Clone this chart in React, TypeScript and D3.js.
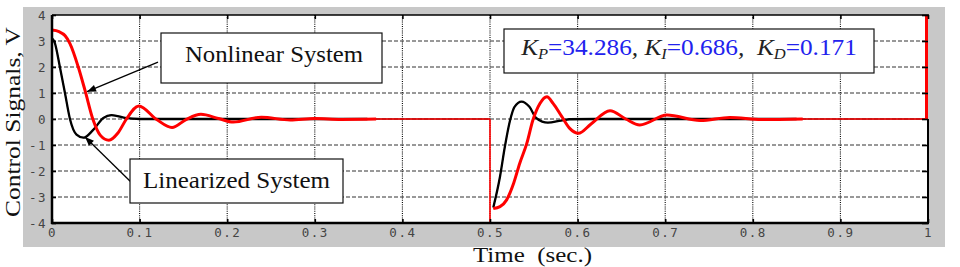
import React, { useEffect, useRef } from 'react';
import * as d3 from 'd3';

// time axis ticks (sec.) and control signal ticks (V)
const xTicks = [0, 0.1, 0.2, 0.3, 0.4, 0.5, 0.6, 0.7, 0.8, 0.9, 1];
const xTickLabels = ['0', '0.1', '0.2', '0.3', '0.4', '0.5', '0.6', '0.7', '0.8', '0.9', '1'];
const yTicks = [-4, -3, -2, -1, 0, 1, 2, 3, 4];

// linearized system, [t, v]
const linearPart1 = [
  [0, 3.1], [0.003, 2.95], [0.009, 2.0], [0.0148, 1.0], [0.0205, 0.0], [0.028, -0.6],
  [0.036, -0.72], [0.047, -0.42], [0.0586, 0.04], [0.068, 0.15], [0.085, 0.03],
  [0.1, 0], [0.36, 0], [0.5, 0],
];
const linearPart2 = [
  [0.5038, -3.4], [0.5114, -2.22], [0.517, -1.06], [0.523, -0.04], [0.528, 0.47],
  [0.536, 0.67], [0.545, 0.47], [0.553, 0.03], [0.566, -0.14], [0.581, -0.06],
  [0.591, -0.01], [0.62, 0], [0.85, 0], [1, 0],
];

// nonlinear system, [t, v]
const nonlinearPart1 = [
  [0, 3.42], [0.008, 3.36], [0.015, 3.2], [0.0205, 2.9], [0.03, 2.0], [0.0377, 1.1],
  [0.047, -0.04], [0.055, -0.62], [0.065, -0.82], [0.075, -0.55], [0.085, 0.0],
  [0.099, 0.5], [0.1195, -0.02], [0.137, -0.33], [0.153, -0.02], [0.17, 0.18],
  [0.19, 0.02], [0.207, -0.12], [0.239, 0.07], [0.272, -0.04], [0.3, 0.02],
  [0.33, -0.015], [0.37, 0], [0.5, 0],
];
const nonlinearPart2 = [
  [0.5038, -3.44], [0.5114, -3.37], [0.519, -3.11], [0.527, -2.47], [0.534, -1.7],
  [0.542, -0.94], [0.549, -0.04], [0.557, 0.6], [0.565, 0.86], [0.572, 0.6],
  [0.582, 0.09], [0.591, -0.36], [0.601, -0.55], [0.615, -0.2], [0.637, 0.32],
  [0.655, 0.0], [0.671, -0.23], [0.702, 0.15], [0.74, -0.06], [0.774, 0.06],
  [0.81, -0.02], [0.857, 0], [1, 0],
];
// jumps of the nonlinear signal at the load changes
const nonlinearJumps = [
  { t: 0.5, from: 0, to: -4.3 },
  { t: 1, from: 0, to: 4.3 },
];
// after these times both traces are drawn thin (settled)
const thickUntil = [0.37, 0.857];

const App = () => {
  const ref = useRef<SVGSVGElement>(null);

  useEffect(() => {
    const svg = d3.select(ref.current);
    svg.selectAll('*').remove();

    const plot = { left: 52, right: 928, top: 15, bottom: 223 };
    const serif = '"Liberation Serif", "Times New Roman", serif';

    const x = d3.scaleLinear().domain([0, 1]).range([plot.left, plot.right]);
    const y = d3.scaleLinear().domain([-4, 4]).range([plot.bottom, plot.top]);

    svg.append('rect')
      .attr('x', 23).attr('y', 7).attr('width', 922).attr('height', 240)
      .attr('fill', '#c8c8c8');
    svg.append('rect')
      .attr('x', plot.left).attr('y', plot.top)
      .attr('width', plot.right - plot.left).attr('height', plot.bottom - plot.top)
      .attr('fill', '#fff');

    const defs = svg.append('defs');
    defs.append('clipPath').attr('id', 'plot-clip')
      .append('rect')
      .attr('x', plot.left).attr('y', plot.top)
      .attr('width', plot.right - plot.left).attr('height', plot.bottom - plot.top);
    defs.append('marker')
      .attr('id', 'arrow')
      .attr('viewBox', '0 0 10 10')
      .attr('refX', 10).attr('refY', 5)
      .attr('markerWidth', 10).attr('markerHeight', 9)
      .attr('markerUnits', 'userSpaceOnUse')
      .attr('orient', 'auto')
      .append('path').attr('d', 'M0,1 L10,5 L0,9 Z').attr('fill', '#000');

    // grid
    svg.append('g')
      .selectAll('line')
      .data(xTicks.slice(1, -1))
      .join('line')
        .attr('x1', d => x(d)).attr('x2', d => x(d))
        .attr('y1', plot.top).attr('y2', plot.bottom)
        .attr('stroke', '#000').attr('stroke-width', 1.1)
        .attr('stroke-dasharray', '1,1.2');
    svg.append('g')
      .selectAll('line')
      .data(yTicks.slice(1, -1))
      .join('line')
        .attr('x1', plot.left).attr('x2', plot.right)
        .attr('y1', d => y(d)).attr('y2', d => y(d))
        .attr('stroke', '#333').attr('stroke-width', 1)
        .attr('stroke-dasharray', '4,2');

    const line = d3.line<number[]>()
      .x(d => x(d[0]))
      .y(d => y(d[1]))
      .curve(d3.curveMonotoneX);

    const traces = svg.append('g').attr('clip-path', 'url(#plot-clip)');

    const drawTrace = (segs: number[][][], color: string, thin: number, thick: number) => {
      segs.forEach((seg, i) => {
        traces.append('path')
          .attr('d', line(seg))
          .attr('fill', 'none').attr('stroke', color).attr('stroke-width', thin);
        traces.append('path')
          .attr('d', line(seg.filter(d => d[0] <= thickUntil[i])))
          .attr('fill', 'none').attr('stroke', color).attr('stroke-width', thick)
          .attr('stroke-linejoin', 'round');
      });
    };

    drawTrace([linearPart1, linearPart2], '#000', 1, 2.3);
    drawTrace([nonlinearPart1, nonlinearPart2], '#ff0000', 1.3, 3);

    traces.selectAll('line.jump')
      .data(nonlinearJumps)
      .join('line')
        .attr('class', 'jump')
        .attr('x1', d => x(d.t) - (d.t === 1 ? 1.5 : 0)).attr('x2', d => x(d.t) - (d.t === 1 ? 1.5 : 0))
        .attr('y1', d => y(d.from)).attr('y2', d => y(d.to))
        .attr('stroke', '#ff0000')
        .attr('stroke-width', d => (d.t === 1 ? 3 : 1.6));

    // axes (ticks inward on all four sides)
    const tickFont = '"DejaVu Sans Mono", monospace';
    const styleAxis = (g: d3.Selection<SVGGElement, unknown, null, undefined>) => {
      g.select('.domain').remove();
      g.selectAll('.tick line').attr('stroke', '#000').attr('stroke-width', 1.6);
      g.selectAll('.tick text')
        .attr('fill', '#444')
        .style('font-family', tickFont)
        .style('font-size', '12.5px')
        .style('letter-spacing', '1.5px');
    };

    svg.append('g')
      .attr('transform', `translate(0,${plot.bottom})`)
      .call(d3.axisBottom(x).tickValues(xTicks)
        .tickFormat((_, i) => xTickLabels[i]).tickSize(-4).tickPadding(5))
      .call(styleAxis);
    svg.append('g')
      .attr('transform', `translate(${plot.left},0)`)
      .call(d3.axisLeft(y).tickValues(yTicks).tickFormat(d => String(d))
        .tickSize(-4).tickPadding(5))
      .call(styleAxis);
    svg.append('g')
      .attr('transform', `translate(0,${plot.top})`)
      .call(d3.axisTop(x).tickValues(xTicks).tickFormat(() => '').tickSize(-4))
      .call(styleAxis);
    svg.append('g')
      .attr('transform', `translate(${plot.right},0)`)
      .call(d3.axisRight(y).tickValues(yTicks).tickFormat(() => '').tickSize(-6))
      .call(styleAxis);

    // box
    svg.append('line')
      .attr('x1', plot.left).attr('x2', plot.right + 1)
      .attr('y1', plot.top).attr('y2', plot.top)
      .attr('stroke', '#000').attr('stroke-width', 1.5);
    svg.append('line')
      .attr('x1', plot.right).attr('x2', plot.right)
      .attr('y1', y(0)).attr('y2', plot.bottom)
      .attr('stroke', '#000').attr('stroke-width', 2);
    svg.append('line')
      .attr('x1', plot.left).attr('x2', plot.left)
      .attr('y1', plot.top).attr('y2', plot.bottom + 1)
      .attr('stroke', '#000').attr('stroke-width', 2.5);
    svg.append('line')
      .attr('x1', plot.left - 1).attr('x2', plot.right + 1)
      .attr('y1', plot.bottom).attr('y2', plot.bottom)
      .attr('stroke', '#000').attr('stroke-width', 2.5);

    // annotations
    const arrow = (from: number[], to: number[]) => {
      svg.append('line')
        .attr('x1', x(from[0])).attr('y1', y(from[1]))
        .attr('x2', x(to[0])).attr('y2', y(to[1]))
        .attr('stroke', '#000').attr('stroke-width', 1.3)
        .attr('marker-end', 'url(#arrow)');
    };
    const box = (bx: number, by: number, bw: number, bh: number) => {
      svg.append('rect')
        .attr('x', bx).attr('y', by).attr('width', bw).attr('height', bh)
        .attr('fill', '#fff').attr('stroke', '#111').attr('stroke-width', 1.2);
    };

    arrow([0.121, 2.19], [0.04, 1.05]);
    box(161, 33, 221, 50);
    svg.append('text')
      .attr('x', 274).attr('y', 62)
      .attr('text-anchor', 'middle')
      .attr('textLength', 178).attr('lengthAdjust', 'spacingAndGlyphs')
      .style('font-family', serif).style('font-size', '23px')
      .attr('fill', '#111')
      .text('Nonlinear System');

    arrow([0.0913, -2.46], [0.0377, -0.69]);
    box(130, 159, 213, 44);
    svg.append('text')
      .attr('x', 236.5).attr('y', 188)
      .attr('text-anchor', 'middle')
      .attr('textLength', 187).attr('lengthAdjust', 'spacingAndGlyphs')
      .style('font-family', serif).style('font-size', '23px')
      .attr('fill', '#111')
      .text('Linearized System');

    box(504, 29, 370, 44);
    const gains = [
      { k: 'P', v: '=34.286', sep: ', ' },
      { k: 'I', v: '=0.686', sep: ',  ' },
      { k: 'D', v: '=0.171', sep: '' },
    ];
    const kText = svg.append('g')
      .attr('transform', 'translate(689,55) scale(1.1,1)')
      .append('text')
      .attr('text-anchor', 'middle')
      .style('font-family', serif).style('font-size', '23px')
      .style('white-space', 'pre');
    gains.forEach(g => {
      kText.append('tspan').attr('fill', '#222').style('font-style', 'italic').text('K');
      kText.append('tspan').attr('fill', '#222').style('font-style', 'italic')
        .style('font-size', '15px').attr('dy', 4).text(g.k);
      kText.append('tspan').attr('fill', '#2222ee').attr('dy', -4).text(g.v);
      if (g.sep) kText.append('tspan').attr('fill', '#222').style('font-style', 'italic').text(g.sep);
    });

    // axis titles
    svg.append('text')
      .attr('transform', 'translate(20,122) rotate(-90)')
      .attr('text-anchor', 'middle')
      .attr('textLength', 190).attr('lengthAdjust', 'spacingAndGlyphs')
      .style('font-family', serif).style('font-size', '22px')
      .attr('fill', '#111')
      .text('Control Signals, V');
    svg.append('text')
      .attr('x', 473).attr('y', 262)
      .attr('textLength', 119).attr('lengthAdjust', 'spacingAndGlyphs')
      .style('font-family', serif).style('font-size', '21px')
      .style('white-space', 'pre')
      .attr('fill', '#111')
      .text('Time  (sec.)');
  }, []);

  return (
    <svg
      ref={ref}
      width={960}
      height={267}
      style={{ position: 'absolute', left: 0, top: 0, background: '#fff' }}
    />
  );
};

export default App;
